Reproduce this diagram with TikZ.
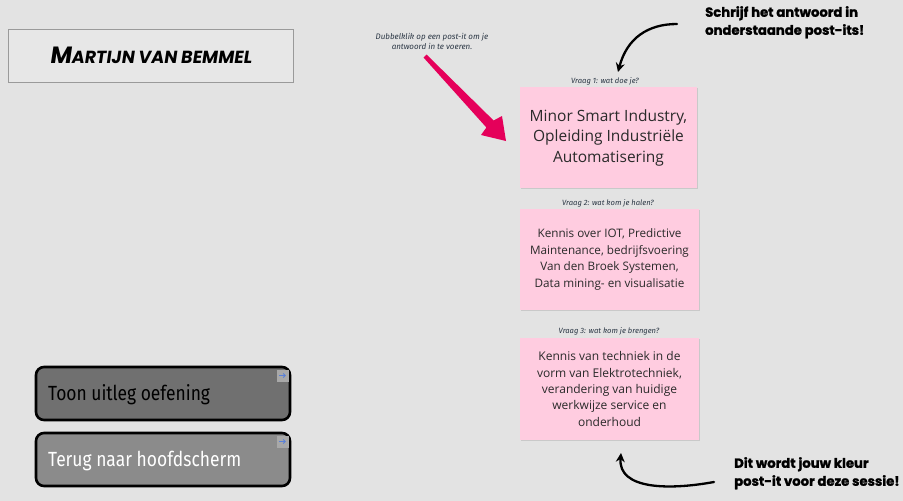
\documentclass[tikz,border=0pt]{standalone}
\usepackage{fontspec}
\setmainfont{Open Sans}
\newfontfamily\handfont[FakeSlant=0.15]{Poppins}
\newfontfamily\heavyfont[BoldFeatures={FakeBold=1.4}]{Poppins}
\newfontfamily\btnfont[FakeStretch=0.85]{Fira Sans}
\newfontfamily\tinyfont{Fira Sans}
\usetikzlibrary{arrows.meta}
\definecolor{bgc}{HTML}{E3E3E3}
\definecolor{titlefill}{HTML}{E7E7E7}
\definecolor{titleborder}{HTML}{9A9A9A}
\definecolor{postit}{HTML}{FFCCE0}
\definecolor{shadowc}{HTML}{C9C9C9}
\definecolor{magentac}{HTML}{E5005A}
\definecolor{labelc}{HTML}{2A3644}
\definecolor{textc}{HTML}{2A2A2A}
\definecolor{btnone}{HTML}{707070}
\definecolor{btntwo}{HTML}{8B8B8B}
\definecolor{iconfill}{HTML}{A8A8A8}
\definecolor{iconarrow}{HTML}{5A80D8}
\tikzset{
  postitbox/.style={rectangle, fill=postit, inner sep=0pt, align=center, text=textc},
  shadowbox/.style={rectangle, fill=shadowc, inner sep=0pt},
  qlabel/.style={font=\tinyfont\itshape\fontsize{7.6}{8}\selectfont, text=labelc, inner sep=0pt},
  btnbox/.style={rectangle, rounded corners=8pt, draw=black, line width=2.6pt, minimum width=254pt, minimum height=53pt, inner sep=0pt},
  btntext/.style={font=\btnfont\fontsize{20.5}{21}\selectfont, anchor=west, inner sep=0pt},
  heavytext/.style={font=\heavyfont\bfseries\fontsize{13.2}{18}\selectfont, align=left, anchor=north west, inner sep=0pt, text=black},
  curvearrow/.style={line width=2.3pt, line cap=round, -{Stealth[length=9pt,width=9pt]}},
  iconbox/.style={rectangle, fill=iconfill, minimum width=12pt, minimum height=12pt, inner sep=0pt},
  iconarrowstyle/.style={draw=iconarrow, line width=0.9pt, -{Straight Barb[length=2.2pt,width=4pt]}}
}
\begin{document}
\begin{tikzpicture}[x=1pt,y=-1pt]
\fill[bgc] (0,0) rectangle (903,501);
\useasboundingbox (0,0) rectangle (903,501);

% title box
\node[rectangle, draw=titleborder, fill=titlefill, line width=1pt, minimum width=285pt, minimum height=53pt, inner sep=0pt] (title) at (150.5,55.5)
  {\handfont\bfseries\fontsize{23.5}{23.5}\selectfont M\fontsize{17.5}{17.5}\selectfont ARTIJN VAN BEMMEL};

% instruction
\node[font=\tinyfont\itshape\fontsize{8}{10}\selectfont, text=labelc, align=center, inner sep=0pt] (instr) at (432,41.5)
  {Dubbelklik op een post-it om je\\antwoord in te voeren.};

% magenta arrow
\fill[magentac] (426.5,54.5) -- (493.6,120.5) -- (502,116) -- (506,141) -- (481,135) -- (486.4,127.5) -- (423.5,57.5) -- cycle;

% top right text and arrow
\node[heavytext] (topnote) at (705,6) {Schrijf het antwoord in\\onderstaande post-its!};
\coordinate (tstart) at (677,24);
\coordinate (tend) at (618,72);
\draw[curvearrow] (tstart) .. controls (648,24) and (627,38) .. (tend);

% post-its
\node[shadowbox, minimum width=177pt, minimum height=101pt] (sh1) at (609.5,138.5) {};
\node[postitbox, minimum width=177pt, minimum height=101pt, font=\fontsize{15.5}{20.5}\selectfont] (p1) at (608.5,137.5)
  {Minor Smart Industry,\\Opleiding Industriële\\Automatisering};
\node[qlabel] (q1) at (605,81) {Vraag 1: wat doe je?};

\node[shadowbox, minimum width=179pt, minimum height=101pt] (sh2) at (610.5,260.5) {};
\node[postitbox, minimum width=179pt, minimum height=101pt, font=\fontsize{11.7}{16.7}\selectfont] (p2) at (609.5,259.5)
  {Kennis over IOT, Predictive\\Maintenance, bedrijfsvoering\\Van den Broek Systemen,\\Data mining- en visualisatie};
\node[qlabel] (q2) at (608,203) {Vraag 2: wat kom je halen?};

\node[shadowbox, minimum width=179pt, minimum height=102pt] (sh3) at (610.5,390) {};
\node[postitbox, minimum width=179pt, minimum height=102pt, font=\fontsize{12}{16.4}\selectfont] (p3) at (609.5,389)
  {Kennis van techniek in de\\vorm van Elektrotechniek,\\verandering van huidige\\werkwijze service en\\onderhoud};
\node[qlabel] (q3) at (609,331) {Vraag 3: wat kom je brengen?};

% bottom right text and arrow
\node[heavytext] (botnote) at (734,457) {Dit wordt jouw kleur\\post-it voor deze sessie!};
\coordinate (bstart) at (714,482);
\coordinate (bend) at (621,453);
\draw[curvearrow] (bstart) .. controls (670,490) and (618,490) .. (bend);

% buttons
\node[btnbox, fill=btnone] (b1) at (163,393.5) {};
\node[btntext, text=black] (b1t) at (48,395) {Toon uitleg oefening};
\node[iconbox] (i1) at (282.5,375.5) {};
\draw[iconarrowstyle] ([xshift=-3.5pt]i1.center) -- ([xshift=3.5pt]i1.center);

\node[btnbox, fill=btntwo] (b2) at (163,459.5) {};
\node[btntext, text=white] (b2t) at (48,461) {Terug naar hoofdscherm};
\node[iconbox] (i2) at (282.5,441.5) {};
\draw[iconarrowstyle] ([xshift=-3.5pt]i2.center) -- ([xshift=3.5pt]i2.center);
\end{tikzpicture}
\end{document}
